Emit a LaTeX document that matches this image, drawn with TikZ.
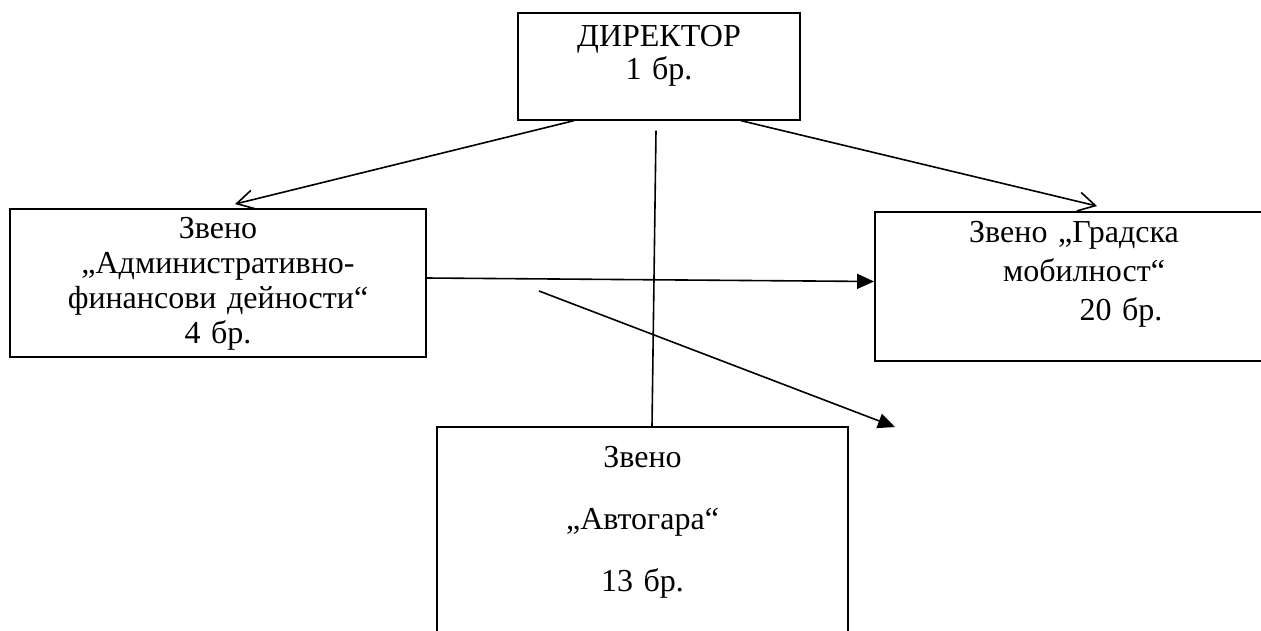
\documentclass[tikz,border=0pt]{standalone}
\usepackage{fontspec}
\setmainfont{Liberation Serif}
\usetikzlibrary{arrows.meta}

\tikzset{
  box/.style={draw, rectangle, line width=1.9pt, inner sep=0pt, anchor=base, align=center},
  open/.style={-{Straight Barb[length=17pt,width=19pt]}},
  full/.style={-{Triangle[length=17pt,width=15pt]}}
}

\begin{document}
\begin{tikzpicture}[x=1pt,y=-1pt,line width=1.6pt]
  \useasboundingbox (0,0) rectangle (1261,630);
  \clip (0,0) rectangle (1261,630);

  \node[box, text width=282pt, text height=34pt, text depth=73pt,
        font=\fontsize{32}{33}\selectfont] (1) at (659,46.7) {ДИРЕКТОР\\1 бр.};
  \node[box, text width=416pt, text height=29pt, text depth=119pt,
        font=\fontsize{32}{35}\selectfont] (2) at (218,238)
        {Звено\\„Административно-\\финансови дейности“\\4 бр.};
  \node[box, text width=398pt, text height=30pt, text depth=119pt,
        font=\fontsize{32}{39}\selectfont] (3) at (1074,242)
        {Звено „Градска\\\hspace*{20pt}мобилност“\\\hspace*{94pt}20 бр.};
  \node[box, text width=411pt, text height=40pt, text depth=183pt,
        font=\fontsize{32}{62}\selectfont] (4) at (642.5,467)
        {Звено\\„Автогара“\\13 бр.};

  \coordinate (5) at (539,291);
  \coordinate (6) at (895,427);

  \path
    ([xshift=57pt]1.south west) edge[open] ([xshift=226pt,yshift=4pt]2.north west)
    ([xshift=-60pt]1.south east) edge[open] ([xshift=223pt,yshift=5pt]3.north west)
    ([xshift=-3pt,yshift=-10pt]1.south) edge ([xshift=9.5pt]4.north)
    ([yshift=5pt]2.east) edge[full] ([yshift=5pt]3.west)
    (5) edge[full] (6);

\end{tikzpicture}
\end{document}
